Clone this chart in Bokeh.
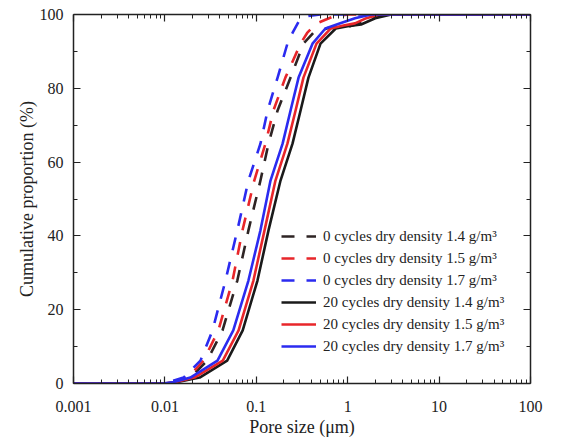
from bokeh.plotting import figure
from bokeh.models import (Range1d, FixedTicker, CustomJSTickFormatter, LinearAxis, LogAxis,
                          Legend, LegendItem)
from bokeh.embed import file_html
from bokeh.resources import INLINE

# ---- data ----
size_0_14 = [0.001, 0.009, 0.012, 0.019, 0.029, 0.0427, 0.062, 0.082, 0.111, 0.136, 0.171, 0.237, 0.328, 0.42, 0.6, 1.0, 1.5, 2.5, 100]
cum_0_14 = [0, 0, 0.4, 1.6, 6.2, 14.4, 27.9, 41.5, 55, 65, 74, 82.9, 92.1, 95, 96.3, 96.6, 98, 100, 100]

size_0_15 = [0.001, 0.009, 0.0115, 0.018, 0.0264, 0.0385, 0.055, 0.0706, 0.095, 0.126, 0.154, 0.208, 0.305, 0.36, 0.45, 0.7, 1.0, 100]
cum_0_15 = [0, 0, 0.4, 1.6, 6.2, 14.4, 27.9, 41.5, 55, 65, 74, 82.9, 92.1, 95, 97.5, 99.5, 100, 100]

size_0_17 = [0.001, 0.009, 0.011, 0.016, 0.0245, 0.0332, 0.046, 0.062, 0.082, 0.111, 0.133, 0.171, 0.219, 0.249, 0.29, 0.35, 0.5, 100]
cum_0_17 = [0, 0, 0.4, 1.6, 6.2, 14.4, 27.9, 41.5, 55, 65, 74, 82.9, 92.1, 95, 98, 99.5, 100, 100]

size_20_14 = [0.001, 0.010, 0.013, 0.024, 0.048, 0.071, 0.103, 0.136, 0.184, 0.249, 0.305, 0.372, 0.504, 0.74, 1.0, 1.4, 2.0, 3.0, 100]
cum_20_14 = [0, 0, 0.3, 1.6, 6.2, 14.4, 27.9, 41.5, 55, 65, 74, 82.9, 92.1, 96.2, 96.8, 97.3, 99, 100, 100]

size_20_15 = [0.001, 0.0098, 0.0125, 0.021, 0.043, 0.064, 0.093, 0.123, 0.162, 0.219, 0.269, 0.328, 0.456, 0.65, 0.9, 1.2, 1.6, 2.2, 100]
cum_20_15 = [0, 0, 0.3, 1.6, 6.2, 14.4, 27.9, 41.5, 55, 65, 74, 82.9, 92.1, 96.2, 97, 97.6, 99, 100, 100]

size_20_17 = [0.001, 0.0095, 0.012, 0.019, 0.0376, 0.056, 0.082, 0.111, 0.143, 0.194, 0.237, 0.290, 0.412, 0.57, 0.8, 1.2, 1.8, 100]
cum_20_17 = [0, 0, 0.3, 1.6, 6.2, 14.4, 27.9, 41.5, 55, 65, 74, 82.9, 92.1, 96.2, 97.5, 99, 100, 100]

labels = [
    "0 cycles dry density 1.4 g/m\u00b3",
    "0 cycles dry density 1.5 g/m\u00b3",
    "0 cycles dry density 1.7 g/m\u00b3",
    "20 cycles dry density 1.4 g/m\u00b3",
    "20 cycles dry density 1.5 g/m\u00b3",
    "20 cycles dry density 1.7 g/m\u00b3",
]
x_ticks = [0.001, 0.01, 0.1, 1, 10, 100]
y_ticks = [0, 20, 40, 60, 80, 100]
x_label = "Pore size (\u03bcm)"
y_label = "Cumulative proportion (%)"

FONT = "Liberation Serif"
BLACK = "#1a1a1a"
DARK = "#2e2424"
RED = "#e8262a"
BLUE = "#2b2bf0"

p = figure(width=562, height=443, x_axis_type="log",
           x_range=Range1d(0.001, 100), y_range=Range1d(0, 100),
           output_backend="svg", toolbar_location=None,
           min_border_left=73, min_border_right=32, min_border_top=14, min_border_bottom=60)
p.xgrid.visible = False
p.ygrid.visible = False
p.outline_line_color = None
p.background_fill_color = "white"
p.border_fill_color = "white"

minor_x = [k * 10.0 ** e for e in range(-3, 2) for k in range(2, 10)]
xt = FixedTicker(ticks=x_ticks, minor_ticks=minor_x)
yt = FixedTicker(ticks=y_ticks, minor_ticks=[10, 30, 50, 70, 90])
fmt = CustomJSTickFormatter(code="return Number(tick.toPrecision(3)).toString();")

def style(ax, show):
    ax.axis_line_width = 1.5
    ax.axis_line_color = "#222222"
    ax.major_tick_in = 7
    ax.major_tick_out = 0
    ax.minor_tick_in = 4
    ax.minor_tick_out = 0
    ax.major_tick_line_width = 1.2
    ax.minor_tick_line_width = 1
    ax.major_tick_line_color = "#222222"
    ax.minor_tick_line_color = "#222222"
    if show:
        ax.major_label_text_font = FONT
        ax.major_label_text_font_size = "16px"
        ax.major_label_text_color = "#222222"
        ax.axis_label_text_font = FONT
        ax.axis_label_text_font_size = "18px"
        ax.axis_label_text_font_style = "normal"
        ax.axis_label_text_color = "#222222"
    else:
        ax.major_label_text_font_size = "1px"
        ax.major_label_text_alpha = 0
        ax.major_label_standoff = 0

xa = p.xaxis[0]
xa.ticker = xt
xa.formatter = fmt
xa.axis_label = x_label
xa.major_label_standoff = 17
xa.axis_label_standoff = 2
style(xa, True)

ya = p.yaxis[0]
ya.ticker = yt
ya.axis_label = y_label
ya.major_label_standoff = 10
ya.axis_label_standoff = 0
style(ya, True)

top = LogAxis(ticker=FixedTicker(ticks=x_ticks, minor_ticks=minor_x))
style(top, False)
p.add_layout(top, "above")
right = LinearAxis(ticker=FixedTicker(ticks=y_ticks, minor_ticks=[10, 30, 50, 70, 90]))
style(right, False)
p.add_layout(right, "right")

series = [
    (size_0_14, cum_0_14, DARK, "13 12"),
    (size_0_15, cum_0_15, RED, "13 12"),
    (size_0_17, cum_0_17, BLUE, "13 12"),
    (size_20_14, cum_20_14, BLACK, "solid"),
    (size_20_15, cum_20_15, RED, "solid"),
    (size_20_17, cum_20_17, BLUE, "solid"),
]
items = []
for (xs, ys, c, dash), lab in zip(series, labels):
    r = p.line(xs, ys, line_color=c, line_width=2.6, line_dash=dash, line_join="round")
    items.append(LegendItem(label=lab, renderers=[r]))

legend = Legend(items=items, location=(208, 28))
legend.background_fill_alpha = 0
legend.border_line_color = None
legend.label_text_font = FONT
legend.label_text_font_size = "15px"
legend.label_text_color = "#222222"
legend.glyph_width = 35
legend.glyph_height = 18
legend.spacing = 4
legend.padding = 2
legend.margin = 0
legend.label_standoff = 7
legend.label_height = 18
p.add_layout(legend, "center")

open("out.html", "w").write(file_html(p, INLINE))
